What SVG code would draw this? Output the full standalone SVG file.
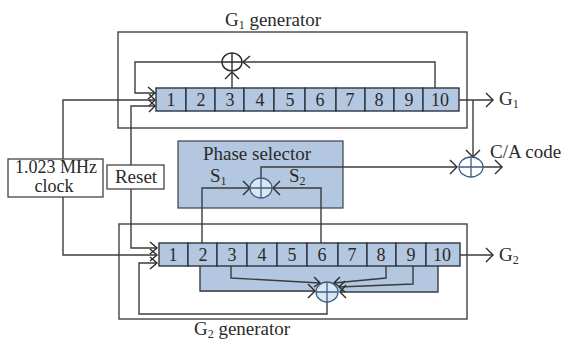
<svg xmlns="http://www.w3.org/2000/svg" width="565" height="340" viewBox="0 0 565 340">
<style>
text{font-family:"Liberation Serif",serif;font-size:19px;fill:#2a2a2a}
.c{text-anchor:middle}
.s{font-size:12px}
.d{font-size:18px}
.k{font-size:18px}
.box{fill:none;stroke:#444;stroke-width:1.4}
.cell{fill:#b4c7e0;stroke:#2b3440;stroke-width:1.4}
.blue{fill:#b4c7e0;stroke:#3a4048;stroke-width:1.2}
.tap{fill:#b4c7e0}
.w{fill:#fff;stroke:#444;stroke-width:1.3}
.l{fill:none;stroke:#3c3c3c;stroke-width:1.4}
.a{fill:none;stroke:#2b2b2b;stroke-width:1.4}
.x{stroke:#3d5f85;stroke-width:1.3}
.n{fill:none}
</style>
<rect width="565" height="340" fill="#fff"/>
<g id="g1-generator"><rect class="box" x="118" y="32" width="349" height="96"/>
<text class="c" x="273" y="26">G<tspan class="s" dy="3">1</tspan><tspan dy="-3"> generator</tspan></text></g>
<g id="g2-generator"><rect class="box" x="119" y="224" width="348" height="95"/>
<text class="c" x="242" y="335">G<tspan class="s" dy="3">2</tspan><tspan dy="-3"> generator</tspan></text></g>
<g id="g2-taps"><rect class="tap" x="200" y="266" width="238" height="26"/></g>
<g id="phase-selector"><rect class="blue" x="178" y="141" width="165" height="67"/>
<text class="c" x="257" y="160">Phase selector</text>
<text x="210" y="182">S<tspan class="s" dy="3">1</tspan></text>
<text x="289" y="182">S<tspan class="s" dy="3">2</tspan></text></g>
<g id="g1-register">
<rect class="cell" x="156" y="88" width="30" height="23"/><rect class="cell" x="186" y="88" width="29" height="23"/><rect class="cell" x="215" y="88" width="29" height="23"/><rect class="cell" x="244" y="88" width="30" height="23"/><rect class="cell" x="274" y="88" width="31" height="23"/><rect class="cell" x="305" y="88" width="31" height="23"/><rect class="cell" x="336" y="88" width="29" height="23"/><rect class="cell" x="365" y="88" width="29" height="23"/><rect class="cell" x="394" y="88" width="29" height="23"/><rect class="cell" x="423" y="88" width="36" height="23"/>
<text class="c d" x="171" y="106">1</text><text class="c d" x="201" y="106">2</text><text class="c d" x="230" y="106">3</text><text class="c d" x="260" y="106">4</text><text class="c d" x="290" y="106">5</text><text class="c d" x="320" y="106">6</text><text class="c d" x="350" y="106">7</text><text class="c d" x="379" y="106">8</text><text class="c d" x="409" y="106">9</text><text class="c d" x="440" y="106">10</text></g>
<g id="g2-register">
<rect class="cell" x="159" y="243" width="29" height="23"/><rect class="cell" x="188" y="243" width="29" height="23"/><rect class="cell" x="217" y="243" width="30" height="23"/><rect class="cell" x="247" y="243" width="30" height="23"/><rect class="cell" x="277" y="243" width="30" height="23"/><rect class="cell" x="307" y="243" width="31" height="23"/><rect class="cell" x="338" y="243" width="29" height="23"/><rect class="cell" x="367" y="243" width="29" height="23"/><rect class="cell" x="396" y="243" width="30" height="23"/><rect class="cell" x="426" y="243" width="34" height="23"/>
<text class="c d" x="173" y="261">1</text><text class="c d" x="203" y="261">2</text><text class="c d" x="232" y="261">3</text><text class="c d" x="262" y="261">4</text><text class="c d" x="292" y="261">5</text><text class="c d" x="322" y="261">6</text><text class="c d" x="352" y="261">7</text><text class="c d" x="381" y="261">8</text><text class="c d" x="411" y="261">9</text><text class="c d" x="442" y="261">10</text></g>
<g id="connectors">
<path class="l" d="M435 88V62H243M222 62H135V93H155"/>
<path class="a" d="M148 87l7 6-7 6"/>
<path class="l" d="M232 88V72"/><path class="a" d="M225 79l7-7 7 7M250 56l-7 6 7 6"/>
<path class="l" d="M63 159V100H155M63 197V255H157"/><path class="a" d="M149 94l6 6-6 6M150 249l7 6-7 6"/>
<path class="l" d="M131 165V106H155M131 189V248H157"/><path class="a" d="M149 100l6 6-6 6M150 242l7 6-7 6"/>
<path class="l" d="M202 243V188H250M321 243V188H273M261 178V167H457"/>
<path class="a" d="M243 181l7 7-7 7M280 181l-7 7 7 7M450 160l7 7-7 7"/>
<path class="l" d="M473 100V157M459 100H493M460 255H493M483 167H502"/>
<path class="a" d="M466 150l7 7 7-7M486 93l7 7-7 7M486 248l7 7-7 7M495 160l7 7-7 7"/>
<path class="l" d="M200 266V291H315M231 266V278L320 283M386 266V278L334 283M413 266V284L339 287M438 266V292H340"/>
<path class="a" d="M308 284l7 7-7 7M314 277l6 6-6 4M340 277l-6 6 6 4M345 281l-6 6 6 5M346 285l-6 7 6 6"/>
<path class="l" d="M327 302V314H139V263H157"/><path class="a" d="M150 257l7 6-7 6"/>
</g>
<g id="xor-g1"><ellipse class="a" cx="232" cy="62" rx="10" ry="9"/><path class="a" d="M232 53V71M222 62H242"/></g>
<g id="xor-phase"><ellipse class="x" cx="261" cy="188" rx="11" ry="10" fill="#dbe6f2"/><path class="x n" d="M261 178V198M250 188H272"/></g>
<g id="xor-ca"><ellipse class="x n" cx="471" cy="167" rx="12" ry="10"/><path class="x n" d="M471 157V177M459 167H483"/></g>
<g id="xor-g2"><ellipse class="x" cx="327" cy="292" rx="11" ry="10" fill="#dbe6f2"/><path class="x n" d="M327 282V302M316 292H338"/></g>
<g id="clock"><rect class="w" x="8" y="159" width="95" height="38"/><text class="c k" x="56" y="173">1.023 MHz</text><text class="c k" x="54" y="192">clock</text></g>
<g id="reset"><rect class="w" x="107" y="165" width="57" height="24"/><text class="c" x="136" y="183">Reset</text></g>
<g id="outputs"><text x="499" y="105">G<tspan class="s" dy="3">1</tspan></text><text x="499" y="261">G<tspan class="s" dy="3">2</tspan></text><text x="490" y="158">C/A code</text></g>
</svg>
